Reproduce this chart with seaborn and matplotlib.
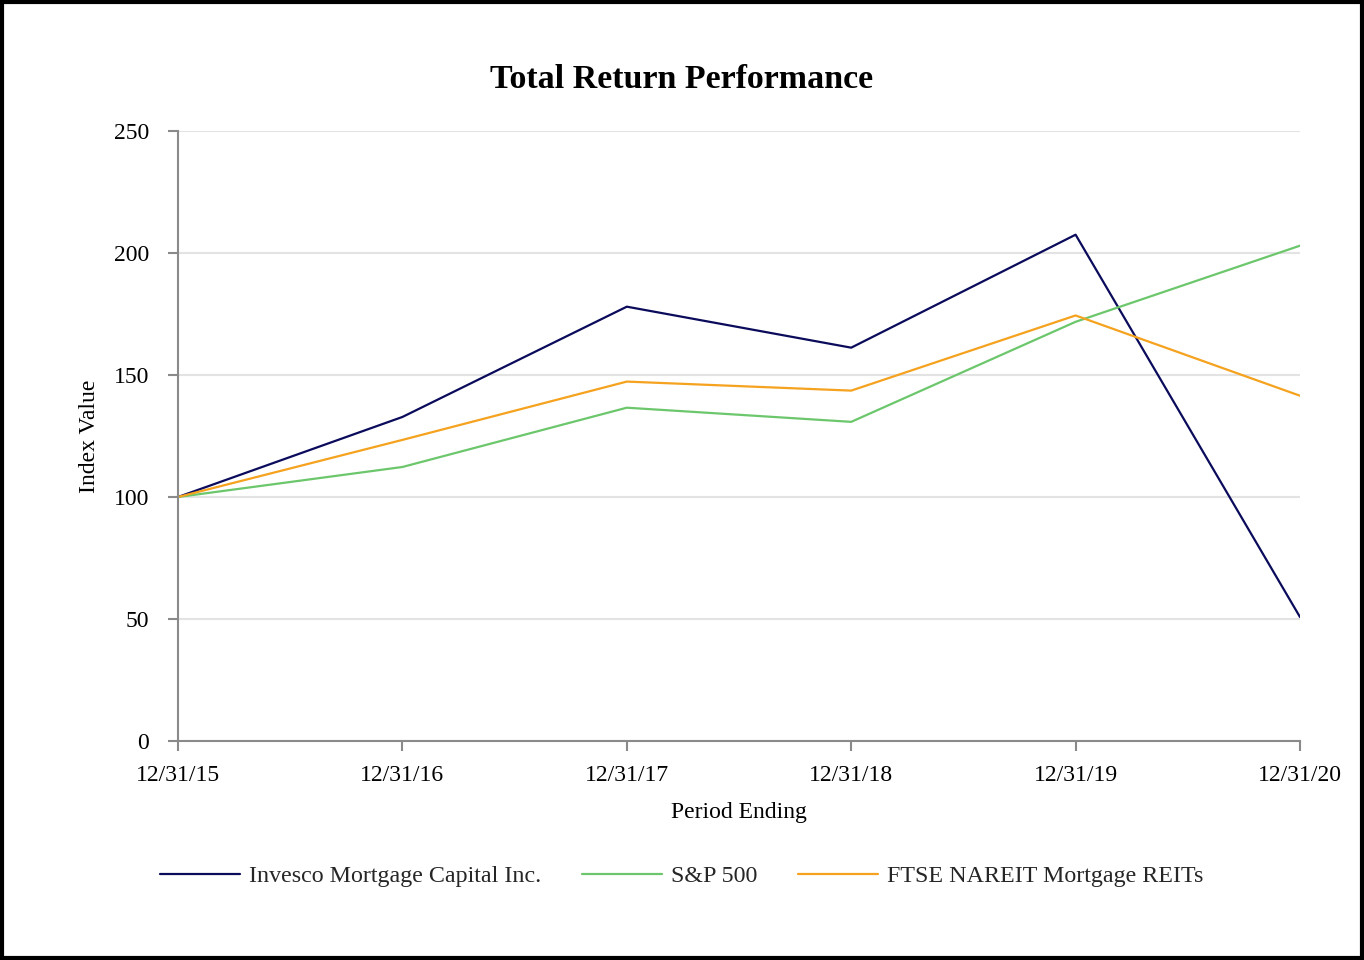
import matplotlib
matplotlib.use("Agg")
import matplotlib.pyplot as plt
import seaborn as sns
import pandas as pd
from matplotlib.patches import Rectangle
from matplotlib.lines import Line2D

periods = ["12/31/15", "12/31/16", "12/31/17", "12/31/18", "12/31/19", "12/31/20"]
invesco = [100.0, 132.8, 178.0, 161.2, 207.5, 50.8]
sp500 = [100.0, 112.3, 136.6, 130.8, 171.8, 203.0]
ftse = [100.0, 123.4, 147.3, 143.6, 174.4, 141.5]
series_names = ["Invesco Mortgage Capital Inc.", "S&P 500", "FTSE NAREIT Mortgage REITs"]
colors = ["#0b0b5c", "#6cc76c", "#f5a21f"]
y_ticks = [0, 50, 100, 150, 200, 250]

rows = []
for name, vals in zip(series_names, [invesco, sp500, ftse]):
    for i, (p, v) in enumerate(zip(periods, vals)):
        rows.append({"idx": i, "Period": p, "Value": v, "Series": name})
df = pd.DataFrame(rows)

sns.set_theme(style="white")
plt.rcParams["font.family"] = ["Liberation Serif", "DejaVu Serif"]

fig = plt.figure(figsize=(13.64, 9.6), dpi=100)
ax = fig.add_axes([178/1364, 1-741/960, (1300-178)/1364, (741-131)/960])

sns.lineplot(data=df, x="idx", y="Value", hue="Series", hue_order=series_names,
             palette=colors, linewidth=1.6, ax=ax, legend=False)

ax.set_xlim(0, len(periods)-1)
ax.set_ylim(0, 250)
ax.set_xticks(range(len(periods)))
ax.set_xticklabels(periods)
ax.set_yticks(y_ticks)
ax.set_yticklabels([str(t) for t in y_ticks])
ax.yaxis.grid(True, color="#e3e3e3", linewidth=1.5)
ax.xaxis.grid(False)
ax.set_axisbelow(True)
for s in ["top", "right"]:
    ax.spines[s].set_visible(False)
for s in ["left", "bottom"]:
    ax.spines[s].set_color("#8a8a8a")
    ax.spines[s].set_linewidth(1.5)
ax.tick_params(axis="both", which="major", bottom=True, left=True, length=7, width=1.5,
               color="#8a8a8a", labelsize=17, labelcolor="black", direction="out")
ax.tick_params(axis="y", pad=14)
ax.tick_params(axis="x", pad=10)

ax.set_xlabel("Period Ending", fontsize=17, color="black", labelpad=12)
ax.set_ylabel("Index Value", fontsize=17, color="black", labelpad=10)

fig.text(0.5, 1-80/960, "Total Return Performance", ha="center", va="center",
         fontsize=24.5, fontweight="bold", color="black")

handles = [Line2D([0], [0], color=c, linewidth=1.6) for c in colors]
fig.legend(handles, series_names, loc="center", bbox_to_anchor=(0.5, 1-876/960),
           ncol=3, frameon=False, fontsize=17.3, handlelength=3.3,
           columnspacing=1.7, handletextpad=0.4)

fig.patches.append(Rectangle((0.0015, 0.002), 0.997, 0.996, transform=fig.transFigure,
                             fill=False, edgecolor="black", linewidth=3))

fig.savefig("out.png", dpi=100)
